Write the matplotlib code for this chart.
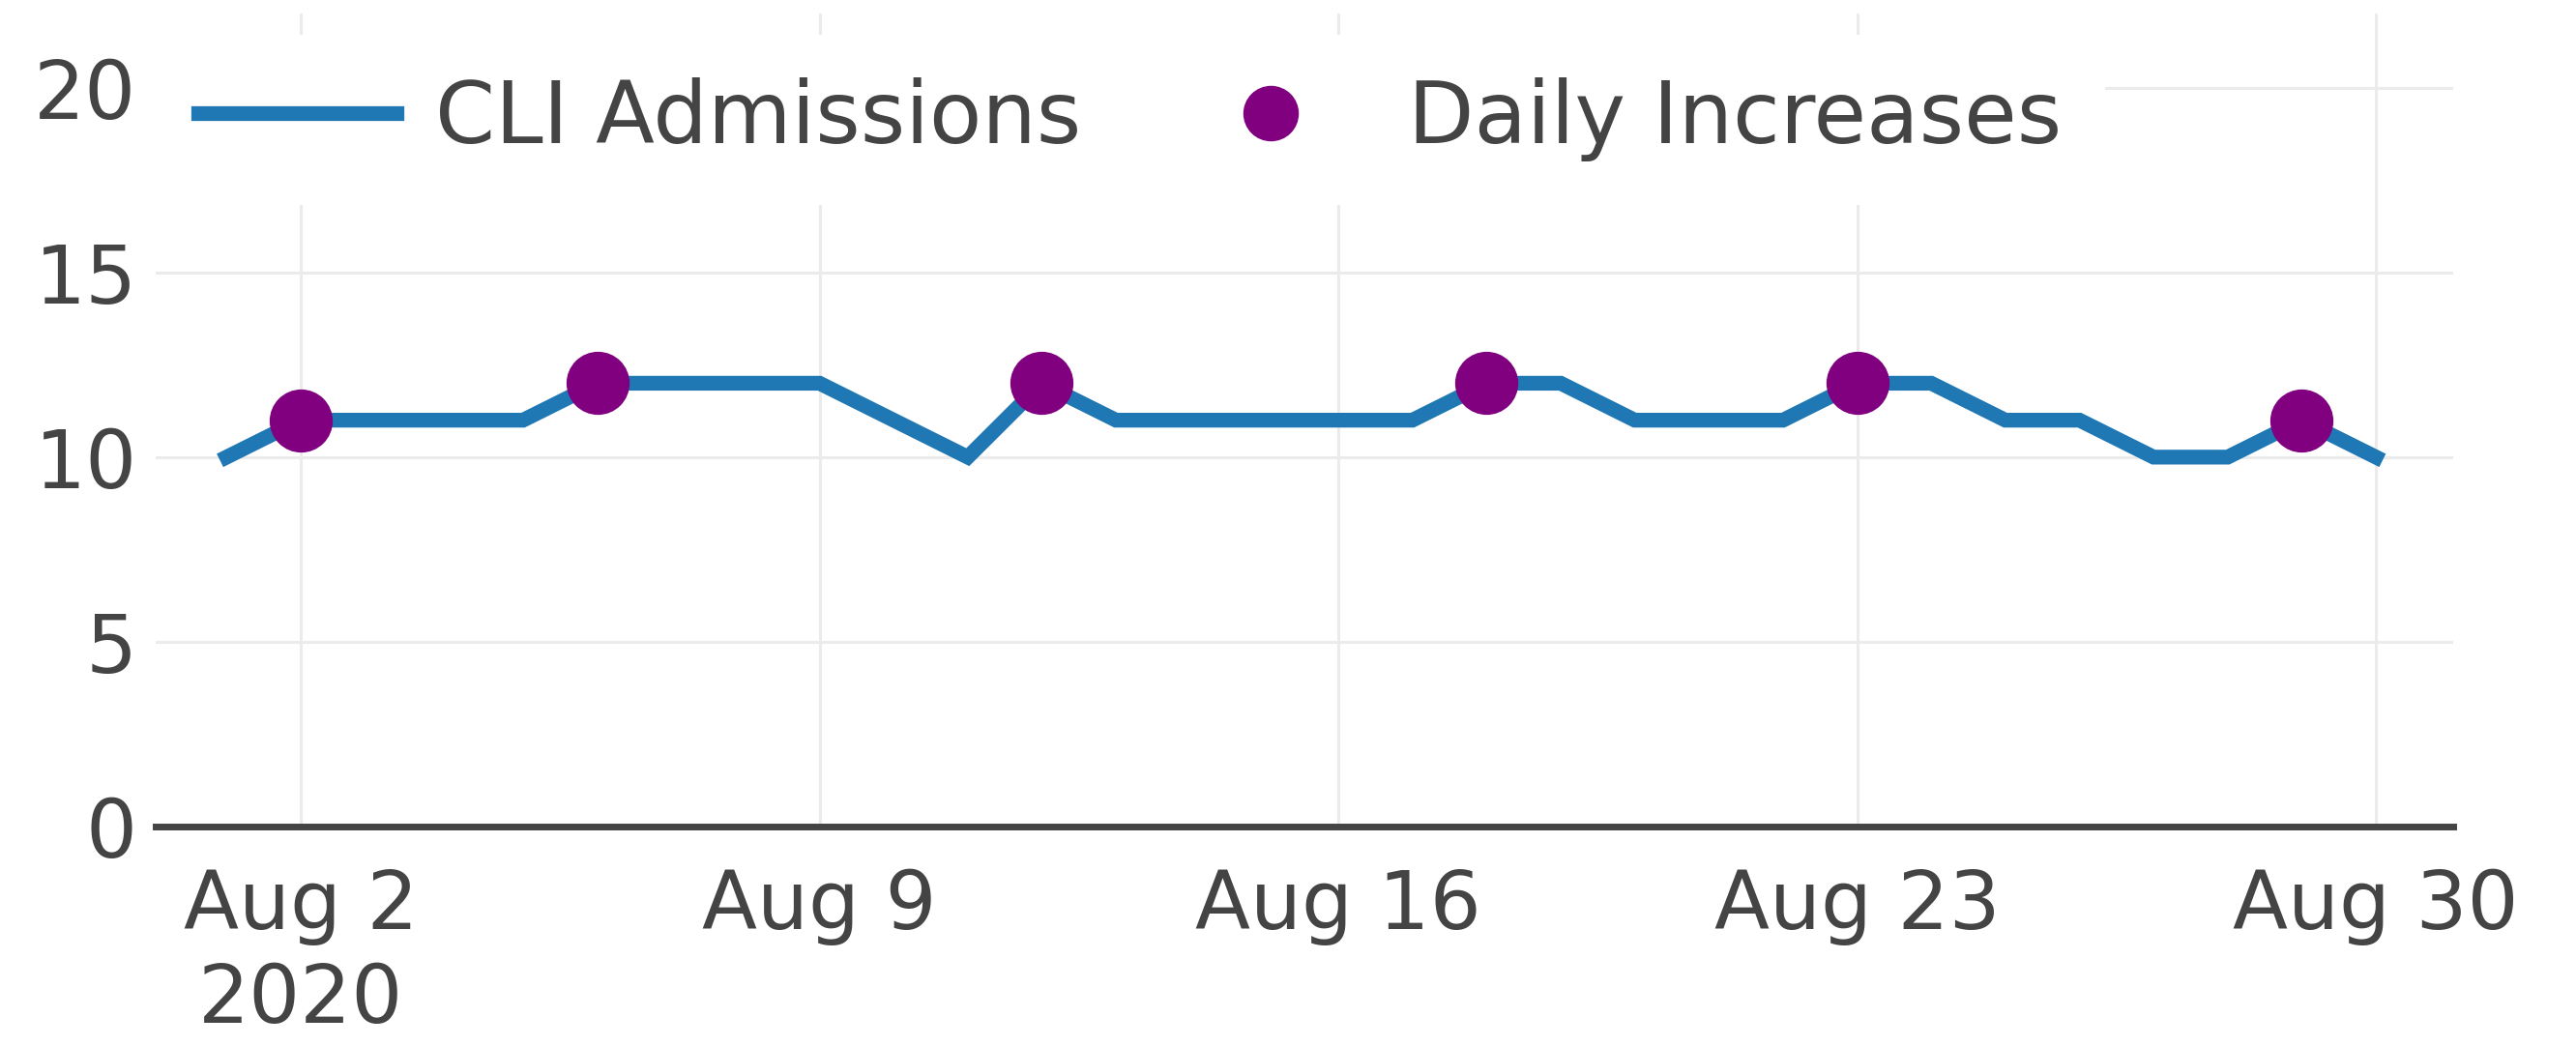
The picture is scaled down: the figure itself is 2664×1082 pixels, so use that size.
import matplotlib.pyplot as plt
import numpy as np

# CLI admissions, Aug 2020
dates = np.arange(np.datetime64('2020-08-01'), np.datetime64('2020-08-31'))
admissions = [10, 11, 11, 11, 11, 12, 12, 12, 12, 11,
              10, 12, 11, 11, 11, 11, 11, 12, 12, 11,
              11, 11, 12, 12, 11, 11, 10, 10, 11, 10]
inc_dates = np.array(['2020-08-02', '2020-08-06', '2020-08-12',
                      '2020-08-18', '2020-08-23', '2020-08-29'], dtype='datetime64[D]')
inc_values = [11, 12, 12, 12, 12, 11]
tick_dates = np.array(['2020-08-02', '2020-08-09', '2020-08-16',
                       '2020-08-23', '2020-08-30'], dtype='datetime64[D]')
tick_labels = ['Aug 2\n2020', 'Aug 9', 'Aug 16', 'Aug 23', 'Aug 30']

plt.rcParams['font.family'] = ['DejaVu Sans']
fig = plt.figure(figsize=(26.64, 10.82), dpi=100)
ax = fig.add_axes([0.0604, 0.2098, 0.8919, 0.777])

ax.plot(dates, admissions, color='#1f77b4', lw=11, solid_joinstyle='miter',
        label='CLI Admissions', zorder=3)
ax.plot(inc_dates, inc_values, 'o', color='#800080', ms=47, mec='none',
        label='Daily Increases', zorder=4)

ax.set_ylim(0, 22)
ax.set_xlim(np.datetime64('2020-07-31T01'), np.datetime64('2020-08-31T01'))
ax.set_yticks([0, 5, 10, 15, 20])
ax.set_xticks(tick_dates)
ax.set_xticklabels(tick_labels)
ax.tick_params(axis='both', length=0, labelsize=60, colors='#444444')
ax.tick_params(axis='x', pad=30)
ax.tick_params(axis='y', pad=14)
for t in ax.get_xticklabels():
    t.set_linespacing(1.25)

ax.grid(True, color='#ebebeb', lw=2.2, zorder=0)
for s in ['top', 'right', 'left']:
    ax.spines[s].set_visible(False)
ax.spines['bottom'].set_color('#444444')
ax.spines['bottom'].set_linewidth(5)

leg = ax.legend(loc='center left', bbox_to_anchor=(0.0, 0.87), ncol=2,
                fontsize=64, frameon=True, framealpha=1, edgecolor='none',
                facecolor='white', handlelength=2.3, handletextpad=0.45,
                columnspacing=1.05, borderpad=0.5, borderaxespad=0,
                markerscale=0.88)
leg.get_frame().set_boxstyle('square', pad=0)
for t in leg.get_texts():
    t.set_color('#444444')

fig.savefig('out.png', dpi=100, facecolor='white')
